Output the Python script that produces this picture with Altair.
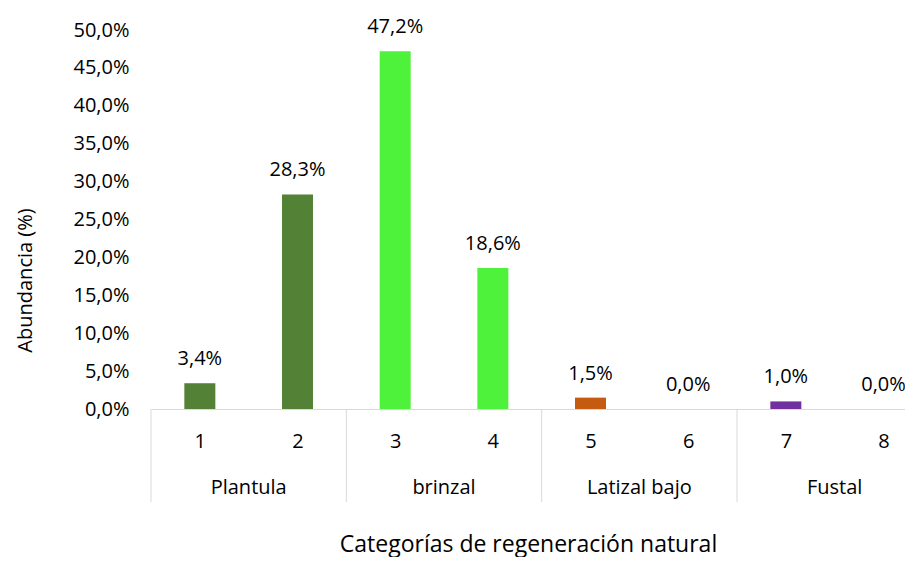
import altair as alt
import pandas as pd

categories = [1, 2, 3, 4, 5, 6, 7, 8]
values = [3.4, 28.3, 47.2, 18.6, 1.5, 0.0, 1.0, 0.0]
groups = ["Plantula", "Plantula", "brinzal", "brinzal",
          "Latizal bajo", "Latizal bajo", "Fustal", "Fustal"]
group_names = ["Plantula", "brinzal", "Latizal bajo", "Fustal"]
group_centers = [1.5, 3.5, 5.5, 7.5]
dividers = [0.5, 2.5, 4.5, 6.5]
colors = ["#538135", "#4EF23A", "#C55A11", "#7030A0"]
y_ticks = [0, 5, 10, 15, 20, 25, 30, 35, 40, 45, 50]

FONT = "Open Sans"
FS = 20
W, H = 754, 379

df = pd.DataFrame({"cat": categories, "val": values, "grp": groups})
df["lab"] = [f"{v:.1f}".replace(".", ",") + "%" for v in values]
gdf = pd.DataFrame({"grp": group_names, "x": group_centers})
ddf = pd.DataFrame({"x": dividers})

xscale = alt.Scale(domain=[0.5, 8.22], nice=False, zero=False, padding=0)
yscale = alt.Scale(domain=[0, 50], nice=False, padding=0)

xaxis = alt.Axis(
    values=categories, labelExpr="datum.value", tickSize=0, grid=False,
    domainColor="#D9D9D9", domainWidth=1, labelPadding=32, labelBaseline="middle",
    labelFont=FONT, labelFontSize=FS, labelColor="#000000", labelAngle=0,
    labelOverlap=False,
    title="Categorías de regeneración natural", titleFont=FONT, titleFontSize=23,
    titleFontWeight="normal", titleColor="#000000", titleX=377, titleY=135,
    titleBaseline="middle", titleAnchor="middle", titleAlign="center",
)
yaxis = alt.Axis(
    values=y_ticks, labelExpr="replace(format(datum.value, '.1f'), '.', ',') + '%'",
    tickSize=0, grid=False, domain=False, labelPadding=22, labelOverlap=False,
    labelFont=FONT, labelFontSize=FS, labelColor="#000000",
    title="Abundancia (%)", titleFont=FONT, titleFontSize=20, titleFontWeight="normal",
    titleColor="#000000", titleX=-126, titleY=250, titleAngle=270,
    titleBaseline="middle", titleAlign="center", titleAnchor="middle",
)

bars = alt.Chart(df).mark_bar(size=31).encode(
    x=alt.X("cat:Q", scale=xscale, axis=xaxis),
    y=alt.Y("val:Q", scale=yscale, axis=yaxis),
    color=alt.Color("grp:N", scale=alt.Scale(domain=group_names, range=colors), legend=None),
)

labels = alt.Chart(df).mark_text(
    font=FONT, fontSize=FS, color="#000000", baseline="middle", dy=-24
).encode(
    x=alt.X("cat:Q", scale=xscale, axis=xaxis),
    y=alt.Y("val:Q", scale=yscale, axis=yaxis),
    text="lab:N",
)

group_text = alt.Chart(gdf).mark_text(
    font=FONT, fontSize=FS, color="#000000", baseline="middle"
).encode(
    x=alt.X("x:Q", scale=xscale, axis=xaxis),
    y=alt.value(H + 79),
    text="grp:N",
)

div_rules = alt.Chart(ddf).mark_rule(color="#D9D9D9", strokeWidth=1).encode(
    x=alt.X("x:Q", scale=xscale, axis=xaxis),
    y=alt.value(H),
    y2=alt.value(H + 93),
)

chart = alt.layer(div_rules, bars, labels, group_text).properties(
    width=W, height=H,
    background="white",
    autosize=alt.AutoSizeParams(type="none"),
    padding={"left": 143, "top": 22, "right": 0, "bottom": 148},
).configure_view(strokeWidth=0, stroke="transparent")

chart.save("out.html", embed_options={"renderer": "svg", "actions": False})
